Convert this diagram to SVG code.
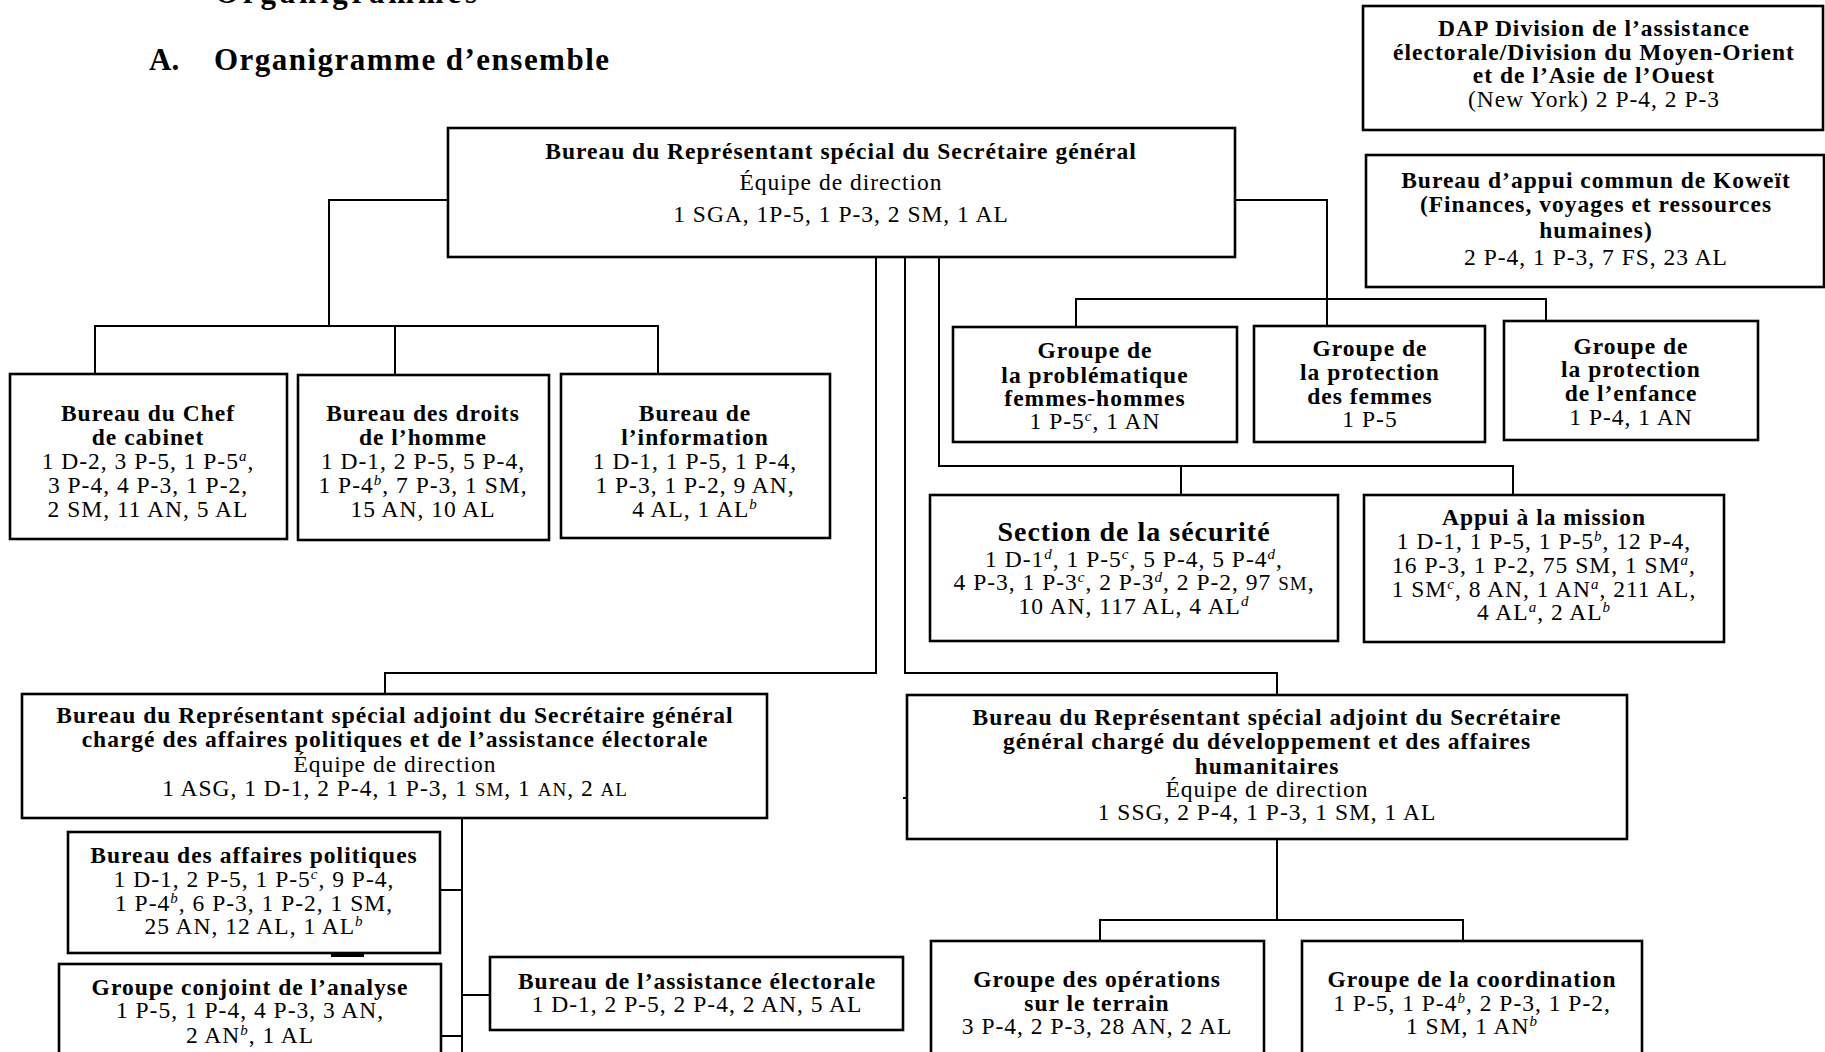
<svg xmlns="http://www.w3.org/2000/svg" width="1825" height="1052" viewBox="0 0 1825 1052">
<style>
.box{fill:#fff;stroke:#000;stroke-width:2.6}
.c{stroke:#000;stroke-width:2;fill:none}
text{font-family:"Liberation Serif","Times New Roman",serif;font-size:23.5px;letter-spacing:1px;text-anchor:middle;fill:#000}
.b{font-weight:bold}
.h{font-weight:bold;font-size:31px;text-anchor:start;letter-spacing:0}
.big{font-size:28px}
.sc{font-size:19px}
.s{font-size:15px;font-style:italic;baseline-shift:super}
</style>
<rect width="1825" height="1052" fill="#fff"/>
<text class="h" x="215" y="3" textLength="262" lengthAdjust="spacing">Organigrammes</text>
<text class="h" x="149" y="70">A.</text>
<text class="h" x="214" y="70" textLength="395" lengthAdjust="spacing">Organigramme d’ensemble</text>

<g id="connectors">
<path class="c" d="M448 200H329V326"/>
<path class="c" d="M95 374V326H658V374M395 326V375"/>
<path class="c" d="M1235 200H1327V326"/>
<path class="c" d="M1076 327V299H1546V321"/>
<path class="c" d="M939 257V466H1513V495M1181 466V495"/>
<path class="c" d="M905 257V673H1277V695"/>
<path class="c" d="M876 257V673H385V694"/>
<path class="c" d="M903 798H907"/>
<path class="c" d="M462 818V1052M440 890H462M462 995H490M441 1036H462"/>
<path class="c" d="M1277 839V920H1100V941M1277 920H1463V941"/>
<path class="c" d="M331 955H364" style="stroke-width:4"/>
</g>

<g id="dap">
<rect class="box" x="1363" y="6" width="460" height="124"/>
<text class="b" x="1594" y="36">DAP Division de l’assistance</text>
<text class="b" x="1594" y="60">électorale/Division du Moyen-Orient</text>
<text class="b" x="1594" y="83">et de l’Asie de l’Ouest</text>
<text x="1594" y="107">(New York) 2 P-4, 2 P-3</text>
</g>

<g id="koweit">
<rect class="box" x="1366" y="155" width="458" height="132"/>
<text class="b" x="1596" y="188">Bureau d’appui commun de Koweït</text>
<text class="b" x="1596" y="212">(Finances, voyages et ressources</text>
<text class="b" x="1596" y="238">humaines)</text>
<text x="1596" y="265">2 P-4, 1 P-3, 7 FS, 23 AL</text>
</g>

<g id="srsg">
<rect class="box" x="448" y="128" width="787" height="129"/>
<text class="b" x="841" y="159">Bureau du Représentant spécial du Secrétaire général</text>
<text x="841" y="190">Équipe de direction</text>
<text x="841" y="222">1 SGA, 1P-5, 1 P-3, 2 SM, 1 AL</text>
</g>

<g id="chef">
<rect class="box" x="10" y="374" width="277" height="165"/>
<text class="b" x="148" y="421">Bureau du Chef</text>
<text class="b" x="148" y="445">de cabinet</text>
<text x="148" y="469">1 D-2, 3 P-5, 1 P-5<tspan class="s">a</tspan>,</text>
<text x="148" y="493">3 P-4, 4 P-3, 1 P-2,</text>
<text x="148" y="517">2 SM, 11 AN, 5 AL</text>
</g>

<g id="droits">
<rect class="box" x="298" y="375" width="251" height="165"/>
<text class="b" x="423" y="421">Bureau des droits</text>
<text class="b" x="423" y="445">de l’homme</text>
<text x="423" y="469">1 D-1, 2 P-5, 5 P-4,</text>
<text x="423" y="493">1 P-4<tspan class="s">b</tspan>, 7 P-3, 1 SM,</text>
<text x="423" y="517">15 AN, 10 AL</text>
</g>

<g id="info">
<rect class="box" x="561" y="374" width="269" height="164"/>
<text class="b" x="695" y="421">Bureau de</text>
<text class="b" x="695" y="445">l’information</text>
<text x="695" y="469">1 D-1, 1 P-5, 1 P-4,</text>
<text x="695" y="493">1 P-3, 1 P-2, 9 AN,</text>
<text x="695" y="517">4 AL, 1 AL<tspan class="s">b</tspan></text>
</g>

<g id="genre">
<rect class="box" x="953" y="327" width="284" height="115"/>
<text class="b" x="1095" y="358">Groupe de</text>
<text class="b" x="1095" y="383">la problématique</text>
<text class="b" x="1095" y="406">femmes-hommes</text>
<text x="1095" y="429">1 P-5<tspan class="s">c</tspan>, 1 AN</text>
</g>

<g id="femmes">
<rect class="box" x="1254" y="326" width="231" height="116"/>
<text class="b" x="1370" y="356">Groupe de</text>
<text class="b" x="1370" y="380">la protection</text>
<text class="b" x="1370" y="404">des femmes</text>
<text x="1370" y="427">1 P-5</text>
</g>

<g id="enfance">
<rect class="box" x="1504" y="321" width="254" height="119"/>
<text class="b" x="1631" y="354">Groupe de</text>
<text class="b" x="1631" y="377">la protection</text>
<text class="b" x="1631" y="401">de l’enfance</text>
<text x="1631" y="425">1 P-4, 1 AN</text>
</g>

<g id="securite">
<rect class="box" x="930" y="495" width="408" height="146"/>
<text class="b big" x="1134" y="541">Section de la sécurité</text>
<text x="1134" y="567">1 D-1<tspan class="s">d</tspan>, 1 P-5<tspan class="s">c</tspan>, 5 P-4, 5 P-4<tspan class="s">d</tspan>,</text>
<text x="1134" y="590">4 P-3, 1 P-3<tspan class="s">c</tspan>, 2 P-3<tspan class="s">d</tspan>, 2 P-2, 97 <tspan class="sc">SM</tspan>,</text>
<text x="1134" y="614">10 AN, 117 AL, 4 AL<tspan class="s">d</tspan></text>
</g>

<g id="appui">
<rect class="box" x="1364" y="495" width="360" height="147"/>
<text class="b" x="1544" y="525">Appui à la mission</text>
<text x="1544" y="549">1 D-1, 1 P-5, 1 P-5<tspan class="s">b</tspan>, 12 P-4,</text>
<text x="1544" y="573">16 P-3, 1 P-2, 75 SM, 1 SM<tspan class="s">a</tspan>,</text>
<text x="1544" y="597">1 SM<tspan class="s">c</tspan>, 8 AN, 1 AN<tspan class="s">a</tspan>, 211 AL,</text>
<text x="1544" y="620">4 AL<tspan class="s">a</tspan>, 2 AL<tspan class="s">b</tspan></text>
</g>

<g id="dsrsg-pol">
<rect class="box" x="22" y="694" width="745" height="124"/>
<text class="b" x="395" y="723">Bureau du Représentant spécial adjoint du Secrétaire général</text>
<text class="b" x="395" y="747">chargé des affaires politiques et de l’assistance électorale</text>
<text x="395" y="772">Équipe de direction</text>
<text x="395" y="796">1 ASG, 1 D-1, 2 P-4, 1 P-3, 1 <tspan class="sc">SM</tspan>, 1 <tspan class="sc">AN</tspan>, 2 <tspan class="sc">AL</tspan></text>
</g>

<g id="dsrsg-dev">
<rect class="box" x="907" y="695" width="720" height="144"/>
<text class="b" x="1267" y="725">Bureau du Représentant spécial adjoint du Secrétaire</text>
<text class="b" x="1267" y="749">général chargé du développement et des affaires</text>
<text class="b" x="1267" y="774">humanitaires</text>
<text x="1267" y="797">Équipe de direction</text>
<text x="1267" y="820">1 SSG, 2 P-4, 1 P-3, 1 SM, 1 AL</text>
</g>

<g id="politiques">
<rect class="box" x="68" y="832" width="372" height="121"/>
<text class="b" x="254" y="863">Bureau des affaires politiques</text>
<text x="254" y="887">1 D-1, 2 P-5, 1 P-5<tspan class="s">c</tspan>, 9 P-4,</text>
<text x="254" y="911">1 P-4<tspan class="s">b</tspan>, 6 P-3, 1 P-2, 1 SM,</text>
<text x="254" y="934">25 AN, 12 AL, 1 AL<tspan class="s">b</tspan></text>
</g>

<g id="analyse">
<rect class="box" x="59" y="964" width="382" height="100"/>
<text class="b" x="250" y="995">Groupe conjoint de l’analyse</text>
<text x="250" y="1018">1 P-5, 1 P-4, 4 P-3, 3 AN,</text>
<text x="250" y="1043">2 AN<tspan class="s">b</tspan>, 1 AL</text>
</g>

<g id="electorale">
<rect class="box" x="490" y="957" width="413" height="73"/>
<text class="b" x="697" y="989">Bureau de l’assistance électorale</text>
<text x="697" y="1012">1 D-1, 2 P-5, 2 P-4, 2 AN, 5 AL</text>
</g>

<g id="operations">
<rect class="box" x="931" y="941" width="333" height="120"/>
<text class="b" x="1097" y="987">Groupe des opérations</text>
<text class="b" x="1097" y="1011">sur le terrain</text>
<text x="1097" y="1034">3 P-4, 2 P-3, 28 AN, 2 AL</text>
</g>

<g id="coordination">
<rect class="box" x="1302" y="941" width="340" height="120"/>
<text class="b" x="1472" y="987">Groupe de la coordination</text>
<text x="1472" y="1011">1 P-5, 1 P-4<tspan class="s">b</tspan>, 2 P-3, 1 P-2,</text>
<text x="1472" y="1034">1 SM, 1 AN<tspan class="s">b</tspan></text>
</g>
</svg>
